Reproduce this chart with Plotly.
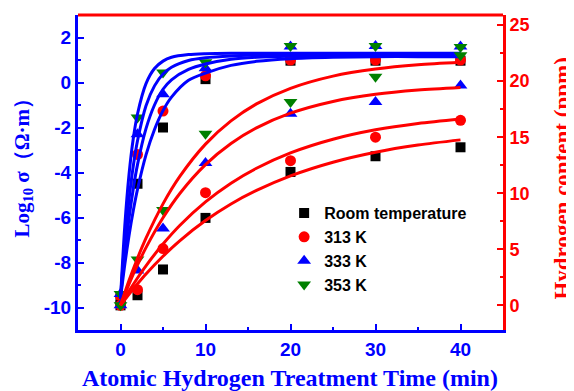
import plotly.graph_objects as go

# ---------------- data ----------------
labels = ["Room temperature", "313 K", "333 K", "353 K"]
colors = ["#000000", "#ff0000", "#0000ff", "#008000"]
symbols = ["square", "circle", "triangle-up", "triangle-down"]
sizes = [10, 11, 12, 12]

t_pts = [0, 2, 5, 10, 20, 30, 40]

# log10 conductivity (left axis)
sig_rt = [-9.6, -4.5, -2.0, 0.15, 0.97, 0.97, 0.97]
sig_313 = [-9.5, -3.2, -1.27, 0.3, 1.0, 1.0, 1.0]
sig_333 = [-9.4, -2.3, -0.52, 0.63, 1.6, 1.62, 1.6]
sig_353 = [-9.4, -1.55, 0.45, 0.9, 1.62, 1.62, 1.58]

# hydrogen content (right axis, ppm)
h_rt = [0, 0.9, 3.2, 7.8, 11.9, 13.3, 14.1]
h_313 = [0, 1.4, 5.06, 10.05, 12.9, 15.0, 16.5]
h_333 = [0, 3.1, 6.85, 12.7, 17.1, 18.15, 19.6]
h_353 = [0, 4.08, 8.5, 15.3, 18.15, 20.4, 22.3]

# fitted curves
t_fit_sig = [0, 0.5, 1, 1.5, 2, 3, 4, 5, 6, 8, 10, 13, 16, 20, 25, 30, 35, 40]
fit_sig_353 = [-9.6, -6.4, -4.1, -2.5, -1.4, -0.05, 0.62, 0.95, 1.12, 1.24, 1.28, 1.3, 1.3, 1.3, 1.3, 1.3, 1.3, 1.3]
fit_sig_333 = [-9.6, -7.1, -5.2, -3.72, -2.59, -1.03, -0.15, 0.38, 0.68, 0.98, 1.1, 1.18, 1.22, 1.25, 1.25, 1.25, 1.25, 1.25]
fit_sig_313 = [-9.6, -7.64, -6.04, -4.73, -3.65, -2.05, -1.0, -0.3, 0.12, 0.58, 0.82, 1.03, 1.12, 1.17, 1.2, 1.2, 1.2, 1.2]
fit_sig_rt = [-9.6, -8.1, -6.81, -5.7, -4.75, -3.22, -2.09, -1.25, -0.65, 0.1, 0.42, 0.76, 0.94, 1.06, 1.12, 1.15, 1.15, 1.15]

t_fit_h = [0, 1, 2, 3, 5, 7, 10, 13, 16, 20, 25, 30, 35, 40]
fit_h_353 = [0, 2.21, 4.2, 5.99, 9.05, 11.52, 14.38, 16.45, 17.97, 19.36, 20.45, 21.08, 21.46, 21.68]
fit_h_333 = [0, 1.89, 3.6, 5.15, 7.81, 10.0, 12.55, 14.43, 15.83, 17.14, 18.19, 18.83, 19.21, 19.44]
fit_h_313 = [0, 1.27, 2.44, 3.53, 5.47, 7.15, 9.23, 10.9, 12.23, 13.6, 14.82, 15.66, 16.23, 16.63]
fit_h_rt = [0, 0.99, 1.92, 2.8, 4.38, 5.78, 7.56, 9.04, 10.25, 11.55, 12.77, 13.66, 14.3, 14.76]

x_ticks = [0, 10, 20, 30, 40]
y_ticks = [-10, -8, -6, -4, -2, 0, 2]
y2_ticks = [0, 5, 10, 15, 20, 25]

# ---------------- figure ----------------
BLUE = "#0000ff"
RED = "#ff0000"
fig = go.Figure()

sig_sets = [sig_rt, sig_313, sig_333, sig_353]
h_sets = [h_rt, h_313, h_333, h_353]

for i in range(4):
    fig.add_trace(go.Scatter(
        x=t_pts, y=sig_sets[i], mode="markers", name=f"<b>{labels[i]}</b>",
        marker=dict(symbol=symbols[i], color=colors[i], size=sizes[i], line=dict(width=0)),
        yaxis="y"))

for fy in [fit_sig_353, fit_sig_333, fit_sig_313, fit_sig_rt]:
    fig.add_trace(go.Scatter(
        x=t_fit_sig, y=fy, mode="lines", showlegend=False,
        line=dict(color=BLUE, width=3, shape="spline", smoothing=0.8), yaxis="y"))

for i in range(4):
    fig.add_trace(go.Scatter(
        x=t_pts, y=h_sets[i], mode="markers", showlegend=False,
        marker=dict(symbol=symbols[i], color=colors[i], size=sizes[i], line=dict(width=0)),
        yaxis="y2"))

for fy in [fit_h_353, fit_h_333, fit_h_313, fit_h_rt]:
    fig.add_trace(go.Scatter(
        x=t_fit_h, y=fy, mode="lines", showlegend=False,
        line=dict(color=RED, width=3, shape="spline", smoothing=0.8), yaxis="y2"))

tickfont_blue = dict(family="Liberation Sans, Arial", size=19, color=BLUE)
tickfont_red = dict(family="Liberation Sans, Arial", size=18, color=RED)

# the page body has an 8 px margin, so the figure is 8 px smaller than the window
fig.update_layout(
    width=566, height=383,
    margin=dict(l=70, r=71, t=7, b=61),
    plot_bgcolor="white", paper_bgcolor="white",
    showlegend=True,
    legend=dict(x=0.485, y=0.425, xanchor="left", yanchor="top",
                bgcolor="rgba(0,0,0,0)", tracegroupgap=0,
                font=dict(family="Liberation Sans, Arial", size=16, color="black")),
    xaxis=dict(range=[-5, 45], tickvals=x_ticks, ticktext=[f"<b>{v}</b>" for v in x_ticks],
               ticks="inside", ticklen=6, tickwidth=2, tickcolor=BLUE,
               minor=dict(ticks="inside", ticklen=3, tickwidth=2, tickcolor=BLUE, dtick=5, tick0=0),
               showline=True, linecolor=BLUE, linewidth=3, mirror=False,
               showgrid=False, zeroline=False, tickfont=tickfont_blue),
    yaxis=dict(range=[-11, 3], tickvals=y_ticks, ticktext=[f"<b>{v}</b>" for v in y_ticks],
               ticks="inside", ticklen=6, tickwidth=2, tickcolor=BLUE,
               minor=dict(ticks="inside", ticklen=3, tickwidth=2, tickcolor=BLUE, dtick=1, tick0=0),
               showline=True, linecolor=BLUE, linewidth=3,
               showgrid=False, zeroline=False, tickfont=tickfont_blue),
    yaxis2=dict(range=[-2.2, 25.9], overlaying="y", side="right",
                tickvals=y2_ticks, ticktext=[f"<b>{v}</b>" for v in y2_ticks],
                ticks="inside", ticklen=6, tickwidth=2, tickcolor=RED,
                minor=dict(ticks="inside", ticklen=3, tickwidth=2, tickcolor=RED, dtick=2.5, tick0=0),
                showline=True, linecolor=RED, linewidth=3,
                showgrid=False, zeroline=False, tickfont=tickfont_red),
)

fig.add_shape(type="line", xref="paper", yref="paper", x0=0, x1=1, y0=1, y1=1,
              line=dict(color=RED, width=3))

serif = "Liberation Serif, Times New Roman, serif"
fig.add_annotation(text="<b>Atomic Hydrogen Treatment Time (min)</b>", xref="paper", yref="paper",
                   x=0.499, y=-0.152, xanchor="center", yanchor="middle", showarrow=False,
                   font=dict(family=serif, size=24, color=BLUE))
fig.add_annotation(text="<b>Log<sub>10</sub> σ（Ω·m）</b>", xref="paper", yref="paper",
                   x=-0.129, y=0.532, xanchor="center", yanchor="middle", showarrow=False,
                   textangle=-90, font=dict(family=serif, size=21, color=BLUE))
fig.add_annotation(text="<b>Hydrogen content (ppm)</b>", xref="paper", yref="paper",
                   x=1.139, y=0.481, xanchor="center", yanchor="middle", showarrow=False,
                   textangle=-90, font=dict(family=serif, size=23, color=RED))

fig.write_html("out.html")
